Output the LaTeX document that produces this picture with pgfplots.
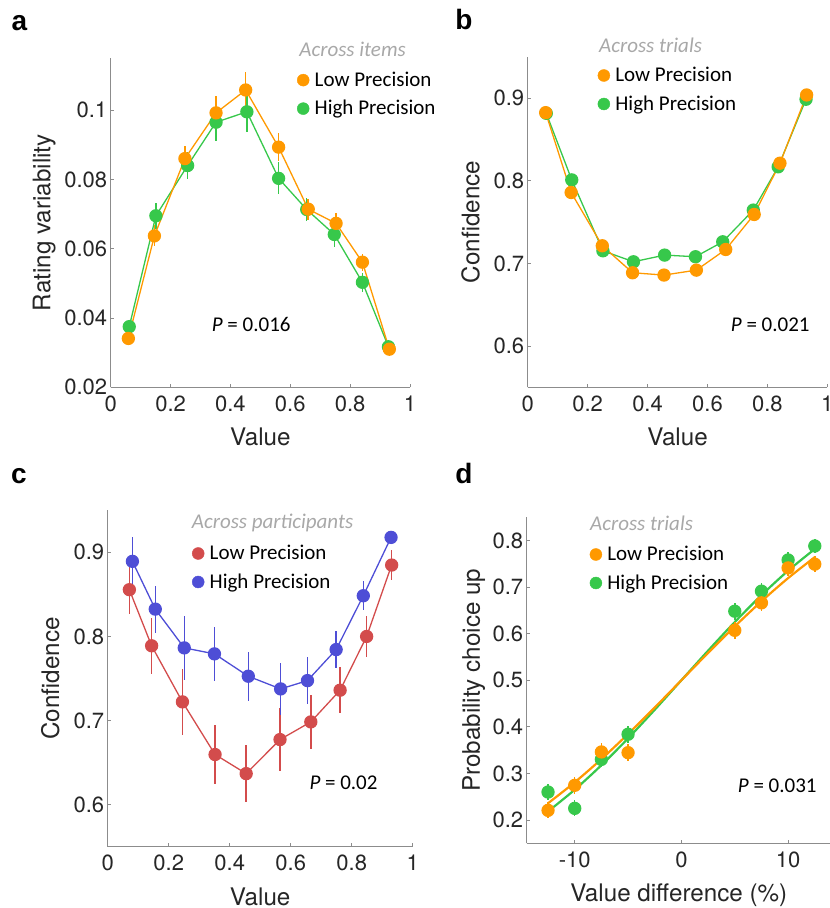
\documentclass[border=0pt]{standalone}
\usepackage{fontspec}
\setmainfont{TeX Gyre Heros}
\newfontfamily\carlito{Carlito}
\newfontfamily\arialfont{Liberation Sans}
\usepackage{pgfplots}
\pgfplotsset{compat=1.18}

\definecolor{lowc}{RGB}{255,153,0}
\definecolor{highc}{RGB}{55,200,75}
\definecolor{redc}{RGB}{211,76,76}
\definecolor{bluec}{RGB}{78,78,214}
\definecolor{axgray}{RGB}{140,140,140}
\definecolor{txtgray}{RGB}{168,168,168}
\definecolor{ticktxt}{RGB}{38,38,38}

\newcommand{\legfont}{\carlito\fontsize{21}{23}\selectfont}

\pgfplotsset{
  panel/.style={
    scale only axis, anchor=south west, clip=false,
    axis lines*=left,
    axis line style={axgray, line width=0.9pt, -},
    tick style={axgray, line width=0.9pt},
    tick align=inside, major tick length=3.5pt,
    tick label style={font=\fontsize{22}{24}\selectfont, text=ticktxt},
    xticklabel style={yshift=-5pt},
    scaled ticks=false,
    label style={font=\fontsize{24.2}{26}\selectfont, text=ticktxt},
    legend style={draw=none, fill=none, inner sep=0pt, font=\legfont,
      nodes={inner sep=2pt, text height=14pt, text depth=4pt},
      row sep=4.7pt, anchor=north west},
    legend cell align=left,
    legend image code/.code={\fill[##1, overlay] (0pt,1.2pt) circle[radius=6pt];
      \path[draw=none, fill=none] (-6pt,0pt) rectangle (9.5pt,12.8pt);},
  },
  valx/.style={xtick={0,0.2,0.4,0.6,0.8,1}, xticklabels={0,0.2,0.4,0.6,0.8,1}},
  dots/.style={color=#1, line width=1.3pt, mark=*, mark size=6pt,
    mark options={draw=none, fill=#1}},
  eb/.style={error bars/.cd, y dir=both, y explicit, error mark=none,
    error bar style={line width=1.5pt}},
}

\begin{document}
\begin{tikzpicture}
\path[use as bounding box] (0pt,0pt) rectangle (830pt,908pt);

% ---------------- a ----------------
\begin{axis}[panel, valx, at={(110.7pt,520.7pt)}, width=299.3pt, height=329.2pt,
  xmin=0, xmax=1, ymin=0.02, ymax=0.115,
  ytick={0.02,0.04,0.06,0.08,0.1}, yticklabels={0.02,0.04,0.06,0.08,0.1},
  xlabel={Value}, ylabel={Rating variability},
  xlabel style={at={(axis description cs:0.5,-0.1777)}, anchor=base},
  ylabel style={at={(axis description cs:-0.2018,0.5)}, anchor=base},
  legend style={at={(0.6225,0.969)}}]
\addlegendimage{color=lowc}\addlegendentry{Low Precision}
\addlegendimage{color=highc}\addlegendentry{High Precision}
\addplot[dots=highc, forget plot, eb] coordinates {
  (0.062,0.0375) +- (0,0.0020) (0.151,0.0695) +- (0,0.0037)
  (0.257,0.0840) +- (0,0.0040) (0.352,0.0965) +- (0,0.0054)
  (0.455,0.0995) +- (0,0.0058) (0.561,0.0803) +- (0,0.0046)
  (0.655,0.0713) +- (0,0.0032) (0.747,0.0641) +- (0,0.0036)
  (0.841,0.0503) +- (0,0.0027) (0.928,0.0317) +- (0,0.0018)};
\addplot[dots=lowc, forget plot, eb] coordinates {
  (0.059,0.0341) +- (0,0.0018) (0.146,0.0637) +- (0,0.0030)
  (0.248,0.0860) +- (0,0.0037) (0.352,0.0992) +- (0,0.0048)
  (0.451,0.1058) +- (0,0.0052) (0.561,0.0893) +- (0,0.0040)
  (0.660,0.0714) +- (0,0.0030) (0.753,0.0673) +- (0,0.0030)
  (0.841,0.0561) +- (0,0.0024) (0.931,0.0310) +- (0,0.0018)};
\end{axis}

% ---------------- b ----------------
\begin{axis}[panel, valx, at={(527.7pt,520.7pt)}, width=299.6pt, height=330.3pt,
  xmin=0, xmax=1, ymin=0.55, ymax=0.95,
  ytick={0.6,0.7,0.8,0.9}, yticklabels={0.6,0.7,0.8,0.9},
  xlabel={Value}, ylabel={Confidence},
  xlabel style={at={(axis description cs:0.5,-0.1771)}, anchor=base},
  ylabel style={at={(axis description cs:-0.1612,0.5)}, anchor=base},
  legend style={at={(0.2336,0.9797)}}]
\addlegendimage{color=lowc}\addlegendentry{Low Precision}
\addlegendimage{color=highc}\addlegendentry{High Precision}
\addplot[dots=highc, forget plot] coordinates {
  (0.062,0.8818) (0.147,0.8012) (0.251,0.7153) (0.353,0.7020) (0.457,0.7101)
  (0.560,0.7081) (0.651,0.7262) (0.753,0.7646) (0.836,0.8170) (0.929,0.8988)};
\addplot[dots=lowc, forget plot] coordinates {
  (0.060,0.8826) (0.145,0.7859) (0.249,0.7214) (0.350,0.6887) (0.455,0.6859)
  (0.563,0.6919) (0.661,0.7169) (0.756,0.7593) (0.842,0.8214) (0.931,0.9040)};
\end{axis}

% ---------------- c ----------------
\begin{axis}[panel, valx, at={(107.7pt,61.3pt)}, width=305pt, height=336.4pt,
  xmin=0, xmax=1, ymin=0.55, ymax=0.95,
  ytick={0.6,0.7,0.8,0.9}, yticklabels={0.6,0.7,0.8,0.9},
  xlabel={Value}, ylabel={Confidence},
  xlabel style={at={(axis description cs:0.5,-0.1739)}, anchor=base},
  ylabel style={at={(axis description cs:-0.1593,0.5)}, anchor=base},
  legend style={at={(0.2764,0.9067)}}]
\addlegendimage{color=redc}\addlegendentry{Low Precision}
\addlegendimage{color=bluec}\addlegendentry{High Precision}
\addplot[dots=redc, forget plot, eb] coordinates {
  (0.071,0.8556) +- (0,0.029) (0.144,0.7889) +- (0,0.033)
  (0.245,0.7222) +- (0,0.039) (0.352,0.6596) +- (0,0.035)
  (0.454,0.6369) +- (0,0.034) (0.565,0.6774) +- (0,0.037)
  (0.666,0.6984) +- (0,0.032) (0.762,0.7361) +- (0,0.027)
  (0.849,0.8000) +- (0,0.024) (0.931,0.8849) +- (0,0.018)};
\addplot[dots=bluec, forget plot, eb] coordinates {
  (0.081,0.8893) +- (0,0.029) (0.156,0.8325) +- (0,0.028)
  (0.251,0.7864) +- (0,0.038) (0.350,0.7793) +- (0,0.032)
  (0.461,0.7527) +- (0,0.029) (0.567,0.7376) +- (0,0.031)
  (0.655,0.7475) +- (0,0.028) (0.749,0.7844) +- (0,0.022)
  (0.838,0.8484) +- (0,0.017) (0.929,0.9178) +- (0,0.006)};
\end{axis}

% ---------------- d ----------------
\begin{axis}[panel, at={(526.7pt,64.7pt)}, width=304.1pt, height=326.2pt,
  xmin=-14.5, xmax=14, ymin=0.15, ymax=0.85,
  xtick={-10,0,10}, xticklabels={-10,0,10},
  ytick={0.2,0.3,0.4,0.5,0.6,0.7,0.8}, yticklabels={0.2,0.3,0.4,0.5,0.6,0.7,0.8},
  xlabel={Value difference (\%)}, ylabel={Probability choice up},
  xlabel style={at={(axis description cs:0.5,-0.1793)}, anchor=base},
  ylabel style={at={(axis description cs:-0.1542,0.5)}, anchor=base},
  legend style={at={(0.2072,0.9215)}}]
\addlegendimage{color=lowc}\addlegendentry{Low Precision}
\addlegendimage{color=highc}\addlegendentry{High Precision}
% fitted curves
\addplot[highc, line width=2.2pt, smooth, forget plot] coordinates {
  (-12.5,0.2184) (-10,0.2650) (-7.5,0.3176) (-5,0.3752) (-2.5,0.4366) (0,0.5)
  (2.5,0.5634) (5,0.6248) (7.5,0.6824) (10,0.7350) (12.5,0.7816)};
\addplot[dots=highc, only marks, forget plot, eb] coordinates {
  (-12.5,0.260) +- (0,0.018) (-10,0.225) +- (0,0.017) (-7.5,0.330) +- (0,0.016)
  (-5,0.384) +- (0,0.018) (5,0.648) +- (0,0.018) (7.5,0.691) +- (0,0.017)
  (10,0.758) +- (0,0.017) (12.5,0.788) +- (0,0.016)};
\addplot[lowc, line width=2.2pt, smooth, forget plot] coordinates {
  (-12.5,0.2359) (-10,0.2809) (-7.5,0.3307) (-5,0.3846) (-2.5,0.4415) (0,0.5)
  (2.5,0.5585) (5,0.6154) (7.5,0.6693) (10,0.7191) (12.5,0.7641)};
\addplot[dots=lowc, only marks, forget plot, eb] coordinates {
  (-12.5,0.2207) +- (0,0.017) (-10,0.2744) +- (0,0.018) (-7.5,0.346) +- (0,0.019)
  (-5,0.3445) +- (0,0.018) (5,0.607) +- (0,0.018) (7.5,0.666) +- (0,0.018)
  (10,0.741) +- (0,0.017) (12.5,0.749) +- (0,0.017)};
\end{axis}

% panel letters
\begin{scope}[every node/.style={font=\arialfont\bfseries\fontsize{28}{30}\selectfont, anchor=base}]
\node at (19.3pt,877.3pt) {a};
\node at (464pt,878.7pt) {b};
\node at (19pt,424.7pt) {c};
\node at (464pt,424.7pt) {d};
\end{scope}

% subtitles and P values
\begin{scope}[every node/.style={font=\legfont, inner sep=0pt}]
\node[anchor=base east, text=txtgray] at (406pt,851.5pt) {\itshape Across items};
\node[anchor=base west, text=txtgray] at (599pt,855.3pt) {\itshape Across trials};
\node[anchor=base west, text=txtgray] at (191.7pt,379.7pt) {\itshape Across participants};
\node[anchor=base west, text=txtgray] at (590pt,377pt) {\itshape Across trials};
\node[anchor=base west] at (211.7pt,576.3pt) {\textit{P} = 0.016};
\node[anchor=base west] at (730.7pt,576.3pt) {\textit{P} = 0.021};
\node[anchor=base west] at (309.3pt,118.7pt) {\textit{P} = 0.02};
\node[anchor=base west] at (737.7pt,115.7pt) {\textit{P} = 0.031};
\end{scope}
\end{tikzpicture}
\end{document}
